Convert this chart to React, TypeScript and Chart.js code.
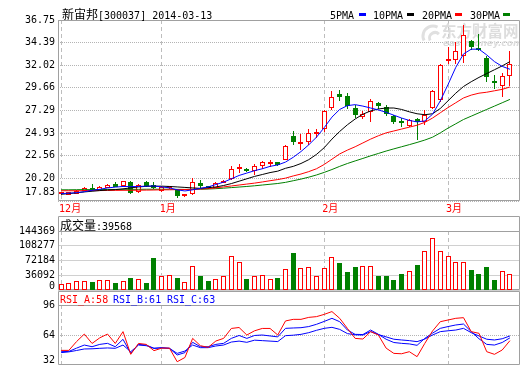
import React, { useEffect, useRef } from "react";
import { Chart, registerables } from "chart.js";

Chart.register(...registerables);

// ---------------- data ----------------
const stockName = "新宙邦";
const stockCode = "[300037]";
const tradeDate = "2014-03-13";
const watermarkName = "东方财富网";
const watermarkSite = "eastmoney.com";

const monthTickIndex = [0, 13, 34, 50];
const monthLabels = ["12月", "1月", "2月", "3月"];
const priceTickLabels = ["17.83", "20.20", "22.56", "24.93", "27.29", "29.66", "32.02", "34.39", "36.75"];
const volumeTickLabels = ["0", "36092", "72184", "108277", "144369"];
const rsiTickLabels = ["32", "64", "96"];
const maNames = ["5PMA", "10PMA", "20PMA", "30PMA"];
const rsiNames = ["RSI_A", "RSI_B", "RSI_C"];

const openPrices = [18.55, 18.50, 18.60, 18.88, 19.20, 19.00, 19.23, 19.58, 19.45, 19.83,
  18.74, 19.80, 19.50, 18.88, 19.22, 19.00, 18.32, 18.60, 19.72, 19.38,
  19.24, 19.72, 20.11, 21.16, 21.22, 20.95, 21.47, 21.74, 21.86, 22.10,
  24.63, 23.75, 24.03, 24.88, 25.36, 27.50, 29.00, 28.80, 27.55, 26.60,
  27.15, 28.06, 27.65, 26.73, 26.13, 25.72, 26.35, 26.13, 27.60, 28.40,
  32.50, 32.60, 32.97, 34.55, 33.70, 32.75, 30.34, 29.90, 30.90];
const highPrices = [18.70, 18.80, 18.95, 19.30, 19.65, 19.35, 19.65, 19.80, 19.97, 19.97,
  19.60, 19.93, 19.80, 19.35, 19.40, 19.10, 18.55, 20.20, 20.00, 19.45,
  19.80, 20.00, 21.47, 21.68, 21.30, 21.68, 22.00, 22.10, 21.90, 23.70,
  25.16, 24.80, 25.40, 25.40, 27.36, 29.30, 29.40, 29.10, 27.90, 27.20,
  28.45, 28.20, 27.90, 26.80, 26.50, 26.40, 26.50, 27.30, 29.46, 32.20,
  33.90, 34.40, 36.20, 34.70, 35.30, 32.97, 31.00, 31.20, 33.50];
const lowPrices = [18.50, 18.45, 18.55, 18.85, 18.90, 18.95, 19.20, 19.25, 19.40, 18.60,
  18.65, 19.30, 19.10, 18.80, 19.10, 18.18, 18.20, 18.50, 19.20, 19.10,
  19.20, 19.70, 20.00, 20.80, 20.90, 20.60, 21.20, 21.40, 21.50, 22.10,
  23.70, 23.15, 23.70, 24.37, 25.08, 27.30, 28.30, 27.40, 26.50, 26.40,
  26.10, 27.40, 26.70, 25.90, 25.60, 25.55, 24.20, 25.75, 27.40, 28.20,
  32.10, 32.10, 32.30, 33.60, 33.50, 30.30, 29.50, 28.70, 29.80];
const closePrices = [18.65, 18.75, 18.90, 19.23, 18.95, 19.30, 19.48, 19.30, 19.93, 18.70,
  19.55, 19.45, 19.16, 19.30, 19.30, 18.36, 18.50, 19.86, 19.41, 19.24,
  19.76, 19.97, 21.13, 21.40, 20.95, 21.47, 21.86, 21.78, 21.58, 23.58,
  24.03, 23.96, 24.90, 24.92, 27.25, 28.75, 28.70, 27.80, 26.85, 26.95,
  28.30, 27.72, 26.95, 26.13, 25.96, 26.30, 26.05, 26.85, 29.29, 32.09,
  32.60, 33.50, 35.14, 33.95, 33.60, 30.76, 30.12, 30.93, 32.20];

const ma5 = [18.60, 18.65, 18.70, 18.80, 18.95, 19.05, 19.20, 19.28, 19.35, 19.33,
  19.35, 19.38, 19.40, 19.30, 19.20, 19.00, 18.88, 19.00, 19.15, 19.30,
  19.55, 19.80, 20.15, 20.50, 20.75, 21.00, 21.20, 21.45, 21.60, 21.90,
  22.40, 23.00, 23.70, 24.50, 25.50, 26.60, 27.40, 27.80, 27.90, 27.75,
  27.55, 27.35, 27.10, 26.80, 26.50, 26.25, 26.10, 26.20, 26.90, 28.30,
  30.00, 31.80, 33.20, 33.70, 33.70, 33.10, 32.40, 31.90, 31.60];
const ma10 = [18.53, 18.60, 18.68, 18.78, 18.85, 18.92, 18.98, 19.02, 19.10, 19.20,
  19.30, 19.36, 19.38, 19.38, 19.35, 19.30, 19.25, 19.20, 19.15, 19.22,
  19.30, 19.45, 19.65, 19.90, 20.15, 20.40, 20.60, 20.80, 20.95, 21.25,
  21.45, 21.75, 22.15, 22.70, 23.40, 24.30, 25.10, 25.80, 26.40, 26.90,
  27.25, 27.45, 27.55, 27.55, 27.40, 27.15, 26.95, 26.85, 26.95, 27.50,
  28.30, 29.10, 29.80, 30.30, 30.75, 31.15, 31.55, 31.95, 32.40];
const ma20 = [18.90, 18.90, 18.90, 18.91, 18.92, 18.92, 18.93, 18.94, 18.95, 18.95,
  18.96, 18.97, 18.98, 19.00, 19.00, 19.02, 19.03, 19.05, 19.08, 19.12,
  19.20, 19.30, 19.40, 19.50, 19.60, 19.70, 19.82, 19.95, 20.07, 20.22,
  20.45, 20.65, 20.90, 21.20, 21.65, 22.20, 22.75, 23.15, 23.50, 23.90,
  24.30, 24.65, 24.95, 25.15, 25.35, 25.55, 25.75, 26.05, 26.50, 27.05,
  27.60, 28.10, 28.60, 28.90, 29.10, 29.20, 29.35, 29.50, 29.75];
const ma30 = [19.00, 19.00, 19.01, 19.02, 19.02, 19.03, 19.04, 19.04, 19.05, 19.05,
  19.05, 19.06, 19.06, 19.06, 19.06, 19.05, 19.04, 19.05, 19.06, 19.08,
  19.12, 19.17, 19.23, 19.29, 19.35, 19.42, 19.50, 19.58, 19.66, 19.78,
  19.95, 20.12, 20.32, 20.55, 20.82, 21.12, 21.45, 21.75, 22.02, 22.28,
  22.55, 22.80, 23.05, 23.28, 23.50, 23.72, 23.95, 24.20, 24.50, 24.95,
  25.45, 25.90, 26.35, 26.70, 27.05, 27.40, 27.75, 28.10, 28.45];

const volumes = [13700, 17000, 22900, 21200, 19500, 23600, 23600, 17000, 21200, 28600,
  26100, 17000, 77600, 33600, 37800, 28600, 18700, 58500, 33600, 21900,
  27900, 33600, 83400, 68400, 26100, 35300, 36100, 27900, 29400, 50300,
  91600, 52800, 55300, 35300, 52800, 80100, 66800, 44300, 55300, 58500,
  58500, 33600, 33600, 25400, 38600, 46800, 61000, 95800, 127400, 95800,
  83400, 68400, 68400, 48500, 38600, 55300, 25400, 45300, 39568];

const rsiA = [47.6, 47.6, 57, 65, 55, 61, 65, 55, 67.6, 43.4,
  55, 54, 47.3, 50, 50, 35.5, 40, 60.4, 52.6, 50.8,
  57.6, 60.4, 71, 72, 64, 68.5, 71, 71, 64, 79,
  80.7, 80.7, 82.8, 83.6, 86, 89, 81.8, 71, 60.4, 59.7,
  67.6, 64, 50, 44.4, 44, 46.2, 40.9, 55.1, 68.3, 78.2,
  80, 81.8, 82.5, 67.6, 65.8, 46.2, 43.4, 48, 58];
const rsiB = [46.2, 46.5, 50, 53.3, 51.5, 54, 55.1, 51.5, 59.4, 44.4,
  54, 53.3, 49.8, 50.5, 49.8, 42.7, 45.2, 56.2, 51.5, 51.5,
  54, 55.1, 60.4, 63.5, 60.4, 63.5, 64, 63, 62, 71.1,
  71.5, 71.8, 73, 75.4, 78.5, 81.8, 78.2, 69.3, 64.7, 64.5,
  69.3, 64.7, 59.5, 56, 55.1, 54.5, 53, 60.4, 66, 71.1,
  73, 74.7, 75.7, 67.6, 60, 54, 53.3, 56, 61];
const rsiC = [45.2, 46, 47.5, 49.1, 49.3, 49.8, 50.2, 49.8, 53.3, 46.2,
  53.3, 52.6, 49.8, 50.2, 49.8, 44.4, 46.9, 53.3, 50.5, 50.5,
  52.3, 53.3, 56.5, 57.5, 56.2, 58.5, 58, 57.5, 57, 63.3,
  63.8, 64.7, 66.5, 69, 71.1, 72.2, 70, 65.5, 64.2, 64,
  67.6, 64.5, 62, 59.5, 58.7, 58, 56.9, 59.7, 64, 67.6,
  68.5, 69.3, 71.1, 66.5, 63, 59.5, 58.7, 60, 63];

// ---------------- styles ----------------
const MONO = '10px "DejaVu Sans Mono"';
const CJK12 = '12px "Noto Sans CJK SC"';
const RED = "#ff0000";
const GREEN = "#008000";
const BLUE = "#0000ff";
const BLACK = "#000000";
const FRAME = "#a0a0a0";
const X_MIN = -0.4;
const X_MAX = 59.3;
const maColors = [BLUE, BLACK, RED, GREEN];
const rsiColors = [RED, BLUE, BLUE];

const isUp = (i: number) => closePrices[i] >= openPrices[i];

function drawRuns(ctx: CanvasRenderingContext2D, runs: { text: string; font: string; color: string }[], x: number, y: number) {
  let cx = x;
  for (const r of runs) {
    ctx.font = r.font;
    ctx.fillStyle = r.color;
    ctx.fillText(r.text, cx, y);
    cx += ctx.measureText(r.text).width;
  }
}

function drawWatermark(ctx: CanvasRenderingContext2D) {
  ctx.save();
  ctx.textAlign = "left";
  ctx.textBaseline = "alphabetic";
  ctx.fillStyle = "#dddddd";
  ctx.font = 'bold 15.5px "Noto Sans CJK SC"';
  ctx.fillText(watermarkName, 441, 37);
  ctx.font = 'italic bold 9px "DejaVu Sans"';
  ctx.fillText(watermarkSite, 443, 46);
  ctx.strokeStyle = "#e0e0e0";
  ctx.lineWidth = 3;
  ctx.beginPath();
  ctx.arc(433, 36, 10, Math.PI * 0.85, Math.PI * 1.65);
  ctx.stroke();
  ctx.beginPath();
  ctx.arc(435, 38, 5.5, Math.PI * 0.85, Math.PI * 1.75);
  ctx.stroke();
  ctx.restore();
}

function xScale(withLabels: boolean) {
  return {
    type: "linear",
    min: X_MIN,
    max: X_MAX,
    offset: false,
    afterBuildTicks: (s: any) => {
      s.ticks = monthTickIndex.map((v) => ({ value: v }));
    },
    afterFit: (s: any) => {
      s.height = withLabels ? 15 : 0;
    },
    grid: { color: "#bdbdbd", lineWidth: 1, drawTicks: false, offset: false },
    border: { display: false, dash: [4, 3] },
    ticks: {
      display: withLabels,
      autoSkip: false,
      maxRotation: 0,
      minRotation: 0,
      align: "start",
      labelOffset: -2,
      padding: 2,
      color: RED,
      font: { family: '"DejaVu Sans Mono", "Noto Sans CJK SC"', size: 10 },
      callback: (v: number) => {
        const k = monthTickIndex.indexOf(v);
        return k >= 0 ? monthLabels[k] : "";
      },
    },
  };
}

function yScale(labels: string[], gridColor: string, dash: number[]) {
  const vals = labels.map((t) => parseFloat(t));
  return {
    type: "linear",
    min: vals[0],
    max: vals[vals.length - 1],
    bounds: "data",
    beginAtZero: false,
    afterBuildTicks: (s: any) => {
      s.ticks = vals.map((v) => ({ value: v }));
    },
    afterFit: (s: any) => {
      s.width = 58;
    },
    grid: { color: gridColor, drawTicks: false },
    border: { display: false, dash },
    ticks: { display: false },
  };
}

function decor(cfg: { labels: string[]; bottomShift: number; header?: number; watermark?: boolean; texts?: (ctx: CanvasRenderingContext2D) => void }) {
  return {
    id: "decor",
    beforeDatasetsDraw(chart: any) {
      const { ctx, chartArea: a } = chart;
      // snap bar elements to whole pixels so 1px outlines stay crisp
      chart.getSortedVisibleDatasetMetas().forEach((meta: any) => {
        if (meta.type !== "bar") return;
        meta.data.forEach((el: any) => {
          el.x = Math.floor(el.x) + 0.5;
          el.y = Math.round(el.y);
          el.base = Math.round(el.base);
        });
      });
      if (cfg.watermark) drawWatermark(ctx);
      ctx.save();
      ctx.strokeStyle = FRAME;
      ctx.lineWidth = 1;
      ctx.setLineDash([]);
      const l = Math.round(a.left) + 0.5;
      const r = Math.round(a.right) - 0.5;
      const t = Math.round(a.top) + 0.5;
      const b = Math.round(a.bottom) - 0.5;
      ctx.beginPath();
      ctx.rect(l, t, r - l, b - t);
      if (cfg.header !== undefined) {
        const h = cfg.header + 0.5;
        ctx.moveTo(l, h);
        ctx.lineTo(r, h);
        ctx.moveTo(l, h);
        ctx.lineTo(l, t);
        ctx.moveTo(r, h);
        ctx.lineTo(r, t);
      }
      ctx.stroke();
      ctx.restore();
    },
    afterDraw(chart: any) {
      const { ctx, chartArea: a } = chart;
      const ys = chart.scales.y;
      ctx.save();
      ctx.font = MONO;
      ctx.fillStyle = "#000000";
      ctx.textAlign = "right";
      ctx.textBaseline = "middle";
      cfg.labels.forEach((t, k) => {
        let y = ys.getPixelForValue(parseFloat(t));
        if (k === 0) y += cfg.bottomShift;
        ctx.fillText(t, a.left - 3, y);
      });
      ctx.textAlign = "left";
      ctx.textBaseline = "alphabetic";
      if (cfg.texts) cfg.texts(ctx);
      ctx.restore();
    },
  };
}

const baseOptions = {
  responsive: false,
  maintainAspectRatio: false,
  animation: false,
  devicePixelRatio: 1,
  events: [],
  plugins: { legend: { display: false }, tooltip: { enabled: false }, title: { display: false } },
};

function mainConfig(): any {
  const lineDs = [ma5, ma10, ma20, ma30].map((arr, k) => ({
    type: "line",
    label: maNames[k],
    data: arr.map((v, i) => ({ x: i, y: v })),
    borderColor: maColors[k],
    borderWidth: 1,
    pointRadius: 0,
    tension: 0,
    fill: false,
    order: 0,
  }));
  const bodyDs = {
    type: "bar",
    label: "body",
    data: openPrices.map((o, i) => ({ x: i, y: [o, closePrices[i]] })),
    backgroundColor: openPrices.map((_, i) => (isUp(i) ? "#ffffff" : GREEN)),
    borderColor: openPrices.map((_, i) => (isUp(i) ? RED : GREEN)),
    borderWidth: 1,
    borderSkipped: false,
    barThickness: 5,
    minBarLength: 2,
    inflateAmount: 0,
    grouped: false,
    order: 1,
  };
  const wickDs = {
    type: "bar",
    label: "wick",
    data: lowPrices.map((l, i) => ({ x: i, y: [l, highPrices[i]] })),
    backgroundColor: lowPrices.map((_, i) => (isUp(i) ? RED : GREEN)),
    borderWidth: 0,
    barThickness: 1,
    inflateAmount: 0,
    grouped: false,
    order: 2,
  };
  return {
    type: "bar",
    data: { datasets: [...lineDs, bodyDs, wickDs] },
    options: {
      ...baseOptions,
      layout: { autoPadding: false, padding: { top: 20, right: 0, bottom: 0, left: 0 } },
      scales: { x: xScale(true), y: yScale(priceTickLabels, "#b4b4b4", [1, 1]) },
    },
    plugins: [
      decor({
        labels: priceTickLabels,
        bottomShift: -9,
        watermark: true,
        texts: (ctx) => {
          drawRuns(ctx, [
            { text: stockName, font: CJK12, color: BLACK },
            { text: stockCode + " " + tradeDate, font: MONO, color: BLACK },
          ], 62, 19);
          const textX = [330, 373, 422, 470];
          const swX = [359, 407, 455, 503];
          maNames.forEach((n, k) => {
            ctx.font = MONO;
            ctx.fillStyle = BLACK;
            ctx.fillText(n, textX[k], 18.5);
            ctx.fillStyle = maColors[k];
            ctx.fillRect(swX[k], 13, 7, 3);
          });
        },
      }),
    ],
  };
}

function volumeConfig(): any {
  return {
    type: "bar",
    data: {
      datasets: [
        {
          label: "volume",
          data: volumes.map((v, i) => ({ x: i, y: v })),
          backgroundColor: volumes.map((_, i) => (isUp(i) ? "#ffffff" : GREEN)),
          borderColor: volumes.map((_, i) => (isUp(i) ? RED : GREEN)),
          borderWidth: 1,
          borderSkipped: false,
          barThickness: 5,
          inflateAmount: 0,
          grouped: false,
        },
      ],
    },
    options: {
      ...baseOptions,
      layout: { autoPadding: false, padding: { top: 15, right: 0, bottom: 1, left: 0 } },
      scales: { x: xScale(false), y: yScale(volumeTickLabels, "#d0d0d0", []) },
    },
    plugins: [
      decor({
        labels: volumeTickLabels,
        bottomShift: -4,
        header: 0,
        texts: (ctx) => {
          drawRuns(ctx, [
            { text: "成交量", font: CJK12, color: BLACK },
            { text: ":" + String(volumes[volumes.length - 1]), font: MONO, color: BLACK },
          ], 60, 14);
        },
      }),
    ],
  };
}

function rsiConfig(): any {
  const series = [rsiA, rsiB, rsiC];
  return {
    type: "line",
    data: {
      datasets: series.map((arr, k) => ({
        label: rsiNames[k],
        data: arr.map((v, i) => ({ x: i, y: v })),
        borderColor: rsiColors[k],
        borderWidth: 1,
        pointRadius: 0,
        tension: 0,
        fill: false,
      })),
    },
    options: {
      ...baseOptions,
      layout: { autoPadding: false, padding: { top: 14, right: 0, bottom: 0, left: 0 } },
      scales: { x: xScale(false), y: yScale(rsiTickLabels, "#b4b4b4", [1, 1]) },
    },
    plugins: [
      decor({
        labels: rsiTickLabels,
        bottomShift: -5,
        header: 0,
        texts: (ctx) => {
          const xs = [60, 113, 167];
          series.forEach((arr, k) => {
            ctx.font = MONO;
            ctx.fillStyle = rsiColors[k];
            ctx.fillText(rsiNames[k] + ":" + Math.round(arr[arr.length - 1]), xs[k], 12);
          });
        },
      }),
    ],
  };
}

export default function App() {
  const mainRef = useRef<HTMLCanvasElement>(null);
  const volRef = useRef<HTMLCanvasElement>(null);
  const rsiRef = useRef<HTMLCanvasElement>(null);

  useEffect(() => {
    const charts: Chart[] = [];
    if (mainRef.current) charts.push(new Chart(mainRef.current, mainConfig()));
    if (volRef.current) charts.push(new Chart(volRef.current, volumeConfig()));
    if (rsiRef.current) charts.push(new Chart(rsiRef.current, rsiConfig()));
    return () => charts.forEach((c) => c.destroy());
  }, []);

  return (
    <div style={{ position: "fixed", left: 0, top: 0, width: 520, height: 365, background: "#ffffff", overflow: "hidden" }}>
      <canvas ref={mainRef} width={520} height={216} style={{ position: "absolute", left: 0, top: 0, width: 520, height: 216 }} />
      <canvas ref={volRef} width={520} height={75} style={{ position: "absolute", left: 0, top: 216, width: 520, height: 75 }} />
      <canvas ref={rsiRef} width={520} height={74} style={{ position: "absolute", left: 0, top: 291, width: 520, height: 74 }} />
    </div>
  );
}
